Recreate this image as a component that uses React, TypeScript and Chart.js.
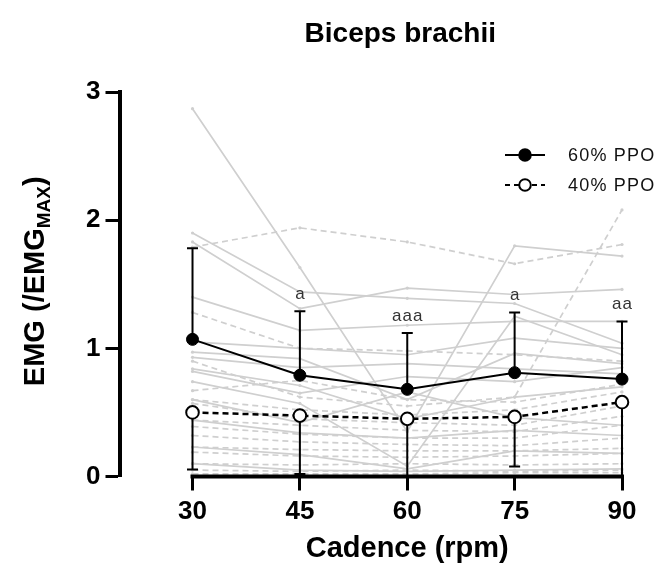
import React, { useEffect, useRef } from "react";
import { Chart, registerables } from "chart.js";

Chart.register(...registerables);

// ---------- data ----------
const cadence = [30, 45, 60, 75, 90];

const mean60 = [1.07, 0.79, 0.68, 0.81, 0.76];
const sd60 = [0.71, 0.5, 0.44, 0.47, 0.45];
const mean40 = [0.5, 0.475, 0.45, 0.465, 0.58];
const sd40 = [0.445, 0.455, 0.48, 0.387, 0.62];
const sigLabels = ["", "a", "aaa", "a", "aa"];

// individual participants, 60% PPO (solid grey)
const ind60: number[][] = [
  [2.87, 1.63, 0.35, 1.8, 1.72],
  [1.9, 1.44, 1.39, 1.35, 1.04],
  [1.83, 1.31, 1.47, 1.42, 1.46],
  [1.4, 1.14, 1.18, 1.21, 1.21],
  [1.05, 1.0, 0.95, 1.08, 1.0],
  [0.97, 0.92, 0.6, 0.96, 0.88],
  [0.93, 0.85, 0.88, 0.84, 0.8],
  [0.84, 0.71, 0.45, 0.62, 0.7],
  [0.82, 0.65, 0.78, 0.74, 0.85],
  [0.74, 0.57, 0.08, 1.25, 0.95],
  [0.6, 0.42, 0.66, 0.46, 0.4],
  [0.44, 0.34, 0.3, 0.36, 0.32],
  [0.23, 0.17, 0.06, 0.2, 0.18],
  [0.1, 0.05, 0.04, 0.05, 0.06],
];

// individual participants, 40% PPO (dashed grey)
const ind40: number[][] = [
  [1.79, 1.94, 1.83, 1.66, 1.81],
  [1.28, 1.0, 0.98, 0.95, 0.9],
  [0.9, 0.62, 0.55, 0.62, 2.08],
  [0.67, 0.75, 0.6, 0.58, 0.72],
  [0.6, 0.52, 0.48, 0.52, 0.66],
  [0.57, 0.45, 0.42, 0.4, 0.55],
  [0.44, 0.4, 0.36, 0.35, 0.47],
  [0.39, 0.33, 0.3, 0.3, 0.4],
  [0.32, 0.27, 0.25, 0.24, 0.3],
  [0.23, 0.21, 0.2, 0.2, 0.22],
  [0.19, 0.16, 0.15, 0.16, 0.18],
  [0.1, 0.09, 0.1, 0.09, 0.1],
  [0.05, 0.04, 0.05, 0.04, 0.05],
  [0.02, 0.02, 0.02, 0.03, 0.03],
];

const yTicks = [0, 1, 2, 3];

const FONT = '"Liberation Sans", Arial, Helvetica, sans-serif';
const GREY = "#cfcfcf";

const toXY = (vals: number[]) => vals.map((v, i) => ({ x: cadence[i], y: v }));

const overlay = {
  id: "overlay",
  beforeDatasetDraw(chart: any, args: any) {
    if (args.index !== 1) return;
    const { ctx, scales, chartArea } = chart;
    const xs = scales.x;
    const ys = scales.y;
    ctx.save();
    ctx.strokeStyle = "#000";
    ctx.lineWidth = 2;
    cadence.forEach((c, i) => {
      const px = xs.getPixelForValue(c);
      // upper bar (60%)
      const y0 = ys.getPixelForValue(mean60[i]);
      const y1 = ys.getPixelForValue(mean60[i] + sd60[i]);
      ctx.beginPath();
      ctx.moveTo(px, y0);
      ctx.lineTo(px, y1);
      ctx.moveTo(px - 5.5, y1);
      ctx.lineTo(px + 5.5, y1);
      ctx.stroke();
      // lower bar (40%)
      const low = mean40[i] - sd40[i];
      const b0 = ys.getPixelForValue(mean40[i]);
      const b1 = ys.getPixelForValue(Math.max(low, 0));
      ctx.beginPath();
      ctx.moveTo(px, b0);
      ctx.lineTo(px, Math.min(b1, chartArea.bottom));
      if (low > 0) {
        ctx.moveTo(px - 5.5, b1);
        ctx.lineTo(px + 5.5, b1);
      }
      ctx.stroke();
    });
    ctx.restore();
  },
  afterDraw(chart: any) {
    const { ctx, scales, chartArea } = chart;
    const xs = scales.x;
    const ys = scales.y;
    const x30 = xs.getPixelForValue(cadence[0]);
    const x90 = xs.getPixelForValue(cadence[cadence.length - 1]);
    ctx.save();
    // x axis line
    ctx.strokeStyle = "#000";
    ctx.lineWidth = 4;
    ctx.beginPath();
    ctx.moveTo(x30 - 2, chartArea.bottom);
    ctx.lineTo(x90 + 2, chartArea.bottom);
    ctx.stroke();

    // significance letters
    ctx.fillStyle = "#333";
    ctx.font = `17px ${FONT}`;
    ctx.textAlign = "center";
    ctx.textBaseline = "middle";
    (ctx as any).letterSpacing = "1px";
    cadence.forEach((c, i) => {
      if (!sigLabels[i]) return;
      const px = xs.getPixelForValue(c);
      const py = ys.getPixelForValue(mean60[i] + sd60[i]) - 17;
      ctx.fillText(sigLabels[i], px + 0.5, py);
    });
    (ctx as any).letterSpacing = "0px";

    // title
    ctx.fillStyle = "#000";
    ctx.font = `bold 28px ${FONT}`;
    ctx.fillText("Biceps brachii", (x30 + x90) / 2 - 7, 34);

    // x axis title
    ctx.font = `bold 29px ${FONT}`;
    ctx.fillText("Cadence (rpm)", (x30 + x90) / 2, 549);

    // y axis title with subscript
    const midY = (chartArea.top + chartArea.bottom) / 2 - 3;
    ctx.save();
    ctx.translate(34, midY);
    ctx.rotate(-Math.PI / 2);
    const mainFont = `bold 29px ${FONT}`;
    const subFont = `bold 19px ${FONT}`;
    ctx.font = mainFont;
    const w1 = ctx.measureText("EMG (/EMG").width;
    const w3 = ctx.measureText(")").width;
    ctx.font = subFont;
    const w2 = ctx.measureText("MAX").width;
    let sx = -(w1 + w2 + w3) / 2;
    ctx.textAlign = "left";
    ctx.textBaseline = "alphabetic";
    ctx.font = mainFont;
    ctx.fillText("EMG (/EMG", sx, 10);
    sx += w1;
    ctx.font = subFont;
    ctx.fillText("MAX", sx, 16);
    sx += w2;
    ctx.font = mainFont;
    ctx.fillText(")", sx, 10);
    ctx.restore();

    // legend
    const items = [
      { label: "60% PPO", dash: [], fill: "#000", y: 155 },
      { label: "40% PPO", dash: [5, 4], fill: "#fff", y: 185 },
    ];
    items.forEach((it) => {
      ctx.strokeStyle = "#000";
      ctx.lineWidth = 2;
      ctx.setLineDash(it.dash);
      ctx.beginPath();
      ctx.moveTo(505, it.y);
      ctx.lineTo(545, it.y);
      ctx.stroke();
      ctx.setLineDash([]);
      ctx.beginPath();
      ctx.arc(525, it.y, 5.8, 0, Math.PI * 2);
      ctx.fillStyle = it.fill;
      ctx.fill();
      ctx.stroke();
      ctx.fillStyle = "#111";
      ctx.font = `18px ${FONT}`;
      ctx.textAlign = "left";
      ctx.textBaseline = "middle";
      (ctx as any).letterSpacing = "1.2px";
      ctx.fillText(it.label, 568, it.y + 1);
      (ctx as any).letterSpacing = "0px";
    });
    ctx.restore();
  },
};

export default function App() {
  const ref = useRef<HTMLCanvasElement | null>(null);

  useEffect(() => {
    document.body.style.margin = "0";
    if (!ref.current) return;

    const greyDatasets = [
      ...ind60.map((vals) => ({
        data: toXY(vals),
        borderColor: GREY,
        backgroundColor: GREY,
        borderWidth: 1.7,
        pointRadius: 1.6,
        pointBorderWidth: 0,
        borderDash: [],
        clip: false as any,
      })),
      ...ind40.map((vals) => ({
        data: toXY(vals),
        borderColor: GREY,
        backgroundColor: GREY,
        borderWidth: 1.7,
        pointRadius: 1.6,
        pointBorderWidth: 0,
        borderDash: [6, 4],
        clip: false as any,
      })),
    ];

    const chart = new Chart(ref.current, {
      type: "line",
      data: {
        datasets: [
          {
            label: "60% PPO",
            data: toXY(mean60),
            borderColor: "#000",
            backgroundColor: "#000",
            borderWidth: 2,
            pointRadius: 6,
            pointBorderWidth: 1,
            pointBackgroundColor: "#000",
            pointBorderColor: "#000",
            clip: false as any,
          },
          {
            label: "40% PPO",
            data: toXY(mean40),
            borderColor: "#000",
            backgroundColor: "#fff",
            borderWidth: 2.5,
            borderDash: [6, 4],
            pointRadius: 6.3,
            pointBorderWidth: 2,
            pointBackgroundColor: "#fff",
            pointBorderColor: "#000",
            clip: false as any,
          },
          ...greyDatasets,
        ] as any,
      },
      options: {
        animation: false,
        responsive: true,
        maintainAspectRatio: false,
        layout: { padding: { top: 92, right: 36, left: 0, bottom: 0 } },
        plugins: {
          legend: { display: false },
          title: { display: false },
          tooltip: { enabled: false },
        },
        scales: {
          x: {
            type: "linear",
            min: 19.8,
            max: 90,
            afterFit: (s: any) => {
              s.height = 108.5;
            },
            afterBuildTicks: (s: any) => {
              s.ticks = cadence.map((v) => ({ value: v }));
            },
            border: { display: false },
            grid: {
              drawOnChartArea: false,
              drawTicks: true,
              tickLength: 14,
              tickWidth: 3,
              tickColor: "#000",
            },
            ticks: {
              color: "#000",
              padding: 6,
              font: { family: FONT, weight: "bold", size: 26 },
              callback: (v: any) => String(v),
            },
          },
          y: {
            min: 0,
            max: 3,
            afterFit: (s: any) => {
              s.width = 119.5;
            },
            afterBuildTicks: (s: any) => {
              s.ticks = yTicks.map((v) => ({ value: v }));
            },
            border: { display: true, color: "#000", width: 4 },
            grid: {
              drawOnChartArea: false,
              drawTicks: true,
              tickLength: 14,
              tickWidth: 3,
              tickColor: "#000",
            },
            ticks: {
              color: "#000",
              padding: 5,
              font: { family: FONT, weight: "bold", size: 26 },
            },
          },
        },
      },
      plugins: [overlay],
    });
    return () => chart.destroy();
  }, []);

  return (
    <div style={{ width: 658, height: 585, position: "relative" }}>
      <canvas ref={ref} />
    </div>
  );
}
